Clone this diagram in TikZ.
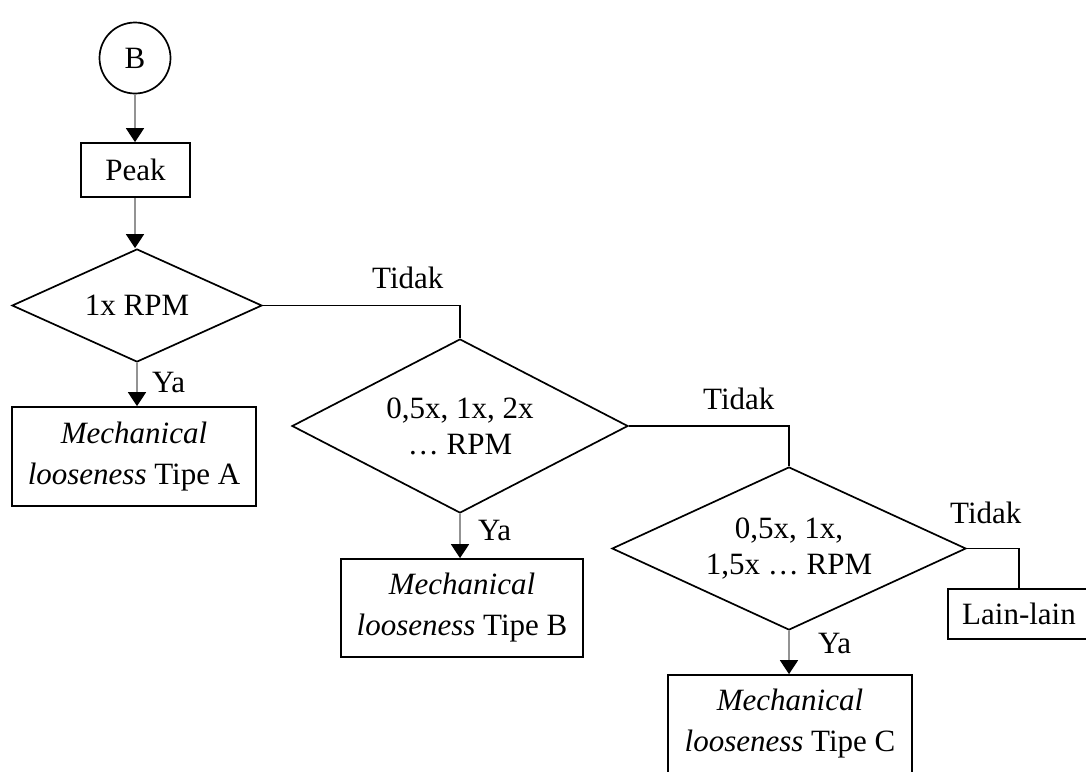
\documentclass[tikz,border=0pt]{standalone}
\usepackage{fontspec}
\setmainfont{Liberation Serif}
\usetikzlibrary{arrows.meta,shapes.geometric}

\tikzset{
  base/.style={draw=black, line width=1.7pt, inner sep=0pt, align=center,
    font=\fontsize{31}{41}\selectfont},
  proc/.style={base, rectangle},
  cond/.style={base, diamond, font=\fontsize{31}{36}\selectfont},
  conn/.style={draw=black, line width=1.3pt},
  flow/.style={draw=gray!85, line width=1.6pt,
    -{Triangle[length=14pt,width=18pt,fill=black,color=black]}},
  lbl/.style={inner sep=0pt, anchor=base west, font=\fontsize{31}{36}\selectfont},
}

\begin{document}
\begin{tikzpicture}[x=1pt, y=-1pt]
  \useasboundingbox (0,0) rectangle (1086,771);

  % start connector and first step
  \node[base, circle, minimum size=71pt] (B) at (135,58) {B};
  \node[proc, minimum width=109pt, minimum height=54pt] (peak) at (135.5,170) {Peak};

  % decisions
  \node[cond, minimum width=250pt, minimum height=113pt, aspect=2.2] (d1) at (137,305.5) {1x RPM};
  \node[cond, minimum width=336pt, minimum height=174pt, aspect=1.93] (d2) at (460,426) {0,5x, 1x, 2x\\… RPM};
  \node[cond, minimum width=354pt, minimum height=163pt, aspect=2.17] (d3) at (789,548.5) {0,5x, 1x,\\1,5x … RPM};

  % results
  \node[proc, minimum width=244pt, minimum height=99pt] (ra) at (134,456.5) {\textit{Mechanical}\\\textit{looseness} Tipe A};
  \node[proc, minimum width=242pt, minimum height=98pt] (rb) at (462,608) {\textit{Mechanical}\\\textit{looseness} Tipe B};
  \node[proc, minimum width=244pt, minimum height=98pt] (rc) at (790,724) {\textit{Mechanical}\\\textit{looseness} Tipe C};
  \node[proc, minimum width=142pt, minimum height=50pt] (lain) at (1019,614) {Lain-lain};

  % "Ya" branches
  \draw[flow] (B.south) -- (B.south |- peak.north);
  \draw[flow] (peak.south -| B.south) -- (d1.north -| B.south);
  \draw[flow] (d1.south) -- (d1.south |- ra.north);
  \draw[flow] (d2.south) -- (d2.south |- rb.north);
  \draw[flow] (d3.south) -- (d3.south |- rc.north);

  % "Tidak" branches
  \draw[conn] (d1.east) -| (d2.north);
  \draw[conn] (d2.east) -| (d3.north);
  \draw[conn] (d3.east) -| (lain.north);

  % branch labels
  \node[lbl] (t1) at (372,288) {Tidak};
  \node[lbl] (t2) at (703,409) {Tidak};
  \node[lbl] (t3) at (950,523) {Tidak};
  \node[lbl] (y1) at (152,392) {Ya};
  \node[lbl] (y2) at (478,540) {Ya};
  \node[lbl] (y3) at (818,653) {Ya};
\end{tikzpicture}
\end{document}
